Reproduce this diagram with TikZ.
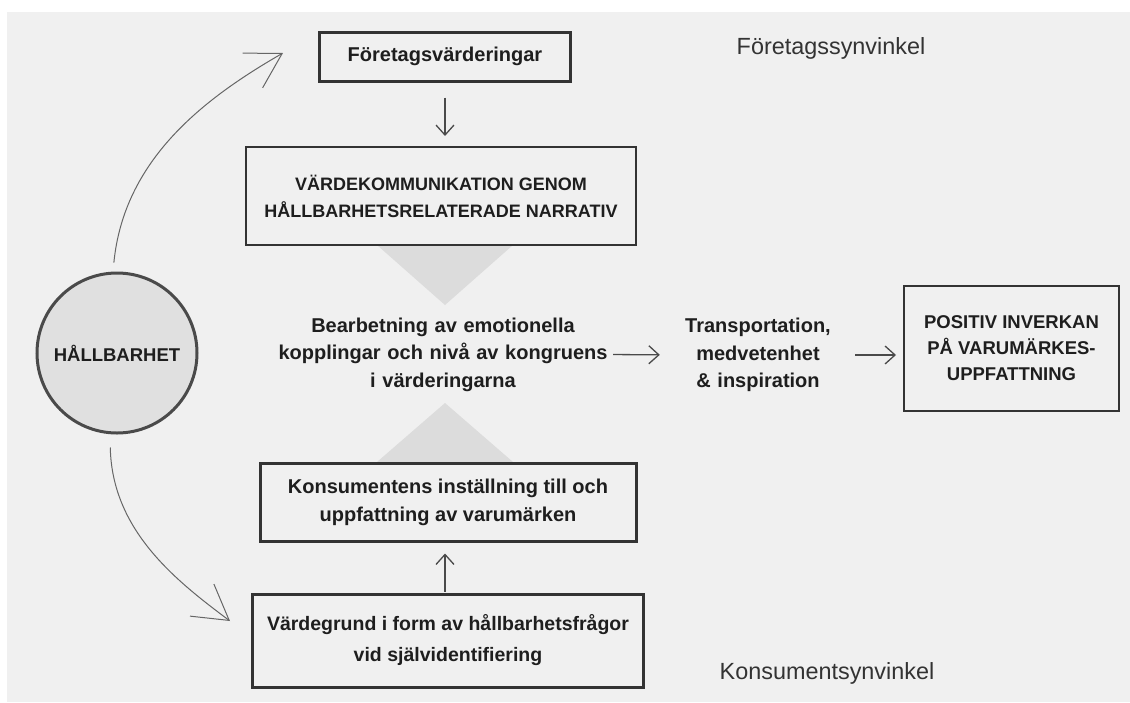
\documentclass[tikz,border=0pt]{standalone}
\usepackage{fontspec}
\setmainfont{Liberation Sans}
\usetikzlibrary{arrows.meta,shapes.geometric}
\definecolor{bgc}{HTML}{F0F0F0}
\definecolor{tric}{HTML}{DCDCDC}
\definecolor{circc}{HTML}{E0E0E0}
\definecolor{linec}{HTML}{333333}
\definecolor{arrc}{HTML}{4A4A4A}
\definecolor{curvc}{HTML}{666666}
\definecolor{txtc}{HTML}{1E1E1E}
\newcommand{\myBold}{\fontsize{20}{27.5}\selectfont\bfseries}
\newcommand{\myCaps}{\fontsize{18}{27}\selectfont\bfseries}
\begin{document}
\begin{tikzpicture}[x=1pt,y=-1pt,
  boxthick/.style={draw=linec, line width=3pt, inner sep=0pt, align=center, text=txtc},
  boxthin/.style={draw=linec, line width=2pt, inner sep=0pt, align=center, text=txtc},
  plaintext/.style={inner sep=0pt, align=center, text=txtc},
  viewlabel/.style={inner sep=0pt, text=linec, font=\fontsize{23.4}{28}\selectfont},
  sarrow/.style={draw=arrc, line width=1.3pt, -{Straight Barb[length=10pt,width=18pt]}},
  carrow/.style={draw=curvc, line width=1pt, -{Straight Barb[length=34pt,width=40pt]}},
]
\useasboundingbox (0,0) rectangle (1130,702);
\fill[white] (0,0) rectangle (1130,702);
\fill[bgc] (7,12) rectangle (1130,702);

% grey triangles
\fill[tric] (377,245) -- (513,245) -- (445,305) -- cycle;
\fill[tric] (445,403) -- (513,462) -- (377,462) -- cycle;

% nodes
\node[boxthick, minimum width=251pt, minimum height=49pt, font=\myBold] (fv) at (445,56.5) {Företagsvärderingar};
\node[boxthin, minimum width=390pt, minimum height=98pt, font=\myCaps] (vk) at (441,196) {VÄRDEKOMMUNIKATION GENOM\\HÅLLBARHETSRELATERADE NARRATIV};
\node[plaintext, font=\myBold, text width=330pt] (mid) at (443,354.5) {Bearbetning av emotionella\\kopplingar och nivå av kongruens\\i värderingarna};
\node[boxthick, minimum width=376pt, minimum height=78pt, font=\fontsize{20}{28}\selectfont\bfseries] (kons) at (448,502) {Konsumentens inställning till och\\uppfattning av varumärken};
\node[boxthick, minimum width=391pt, minimum height=93pt, font=\fontsize{19.5}{31}\selectfont\bfseries] (vg) at (448,640.5) {Värdegrund i form av hållbarhetsfrågor\\vid självidentifiering};
\node[plaintext, font=\myBold, text width=146pt] (trans) at (758,355) {Transportation,\\medvetenhet\\\& inspiration};
\node[boxthin, minimum width=215pt, minimum height=125pt, font=\fontsize{18.5}{26}\selectfont\bfseries] (pos) at (1011.5,348.5) {POSITIV INVERKAN\\PÅ VARUMÄRKES-\\UPPFATTNING};
\node[circle, draw=arrc, line width=3pt, fill=circc, minimum size=160pt, inner sep=0pt, text=txtc, font=\fontsize{18.5}{22}\selectfont\bfseries] (circ) at (117,353) {\raisebox{-6pt}{HÅLLBARHET}};
\node[viewlabel] (ftag) at (831,48) {Företagssynvinkel};
\node[viewlabel] (kview) at (827,673) {Konsumentsynvinkel};

% straight connectors
\draw[sarrow, shorten <=15pt, shorten >=10pt] (fv.south) -- (vk.north -| fv.south);
\draw[sarrow, shorten <=1pt, shorten >=11pt] (vg.north -| fv.south) -- (kons.south -| fv.south);
\draw[sarrow, shorten <=5pt, shorten >=25pt] (mid.east) -- (trans.west);
\draw[sarrow, shorten <=24pt, shorten >=7pt] (trans.east) -- (pos.west |- trans.east);

% curved connectors
\coordinate (cup) at (283,53);
\coordinate (clow) at (230,621);
\draw[carrow, shorten <=9pt] ([xshift=-4pt]circ.north) .. controls (124,160) and (203,99) .. (cup);
\draw[carrow, shorten <=13pt] ([xshift=-7pt]circ.south) .. controls (112,530) and (175,580) .. (clow);
\end{tikzpicture}
\end{document}
